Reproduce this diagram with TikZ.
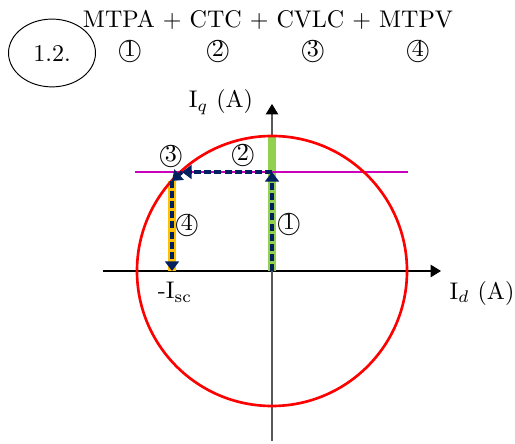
\documentclass[tikz,border=0pt]{standalone}
\usetikzlibrary{arrows.meta, positioning, shapes.geometric}
\definecolor{circc}{HTML}{FF0000}
\definecolor{limc}{HTML}{CC00BB}
\definecolor{mtpac}{HTML}{92D050}
\definecolor{mtpvc}{HTML}{FFC000}
\definecolor{pathc}{HTML}{002060}
\tikzset{
  axis/.style={-{Triangle[length=1.5mm,width=1.8mm,black]}, line width=0.45pt},
  band/.style={line width=3.1pt},
  trace/.style={pathc, line width=1.6pt, dash pattern=on 2.9pt off 1.3pt,
                -{Triangle[length=1.4mm,width=2.0mm]}},
  lbl/.style={inner sep=1pt},
  cnum/.style={inner sep=0pt},
}
\newcommand{\cnum}[1]{\textcircled{#1}}

\begin{document}
\begin{tikzpicture}[x=0.0146cm, y=-0.0146cm]
\useasboundingbox (0,0) rectangle (515,444);

% ---------------- heading ----------------
\node[draw, ellipse, minimum width=1.27cm, minimum height=0.99cm, line width=0.4pt] (tag) at (52,53) {1.2.};
\node[lbl] (title) at (268,20) {MTPA + CTC + CVLC + MTPV};
\node[cnum] (h1) at (130,51) {\cnum{1}};
\node[cnum] (h2) at (218,51) {\cnum{2}};
\node[cnum] (h3) at (313,51) {\cnum{3}};
\node[cnum] (h4) at (418,51) {\cnum{4}};

% ---------------- the current plane ----------------
\coordinate (O) at (272,271);
\coordinate (xl) at (103,271);
\coordinate (xr) at (441,271);
\coordinate (yb) at (272,441);
\coordinate (yt) at (272,104);
\draw[axis] (xl) -- (xr);
\draw[axis, black!65] (yb) -- (yt);
\node[lbl] (id) at (482,293) {I$_d$ (A)};
\node[lbl] (iq) at (221,102) {I$_q$ (A)};
\node[lbl] (isc) at (175,292) {-I$_{\mathrm{sc}}$};

% the points of the trajectory
\coordinate (top) at (272,136);
\coordinate (A) at (272,172);
\coordinate (B) at (182,172);
\coordinate (C) at (172,181);
\coordinate (D) at (172,271);

% the regions
\draw[band, mtpac] (O) -- (top);
\draw[band, mtpvc] (C) -- (D);
\coordinate (ml) at (135,172);
\coordinate (mr) at (408,172);
\draw[limc, line width=1pt] (ml) -- (mr);
\draw[circc, line width=1.1pt] (O) circle[radius=135];

% the trajectory
\draw[trace] (O) -- (A);
\draw[trace] (A) -- (B);
\draw[trace] (B) -- (C);
\draw[trace] (C) -- (D);

\node[cnum] (p1) at (289,224) {\cnum{1}};
\node[cnum] (p2) at (243,155) {\cnum{2}};
\node[cnum] (p3) at (171,156) {\cnum{3}};
\node[cnum] (p4) at (187,225) {\cnum{4}};
\end{tikzpicture}
\end{document}
